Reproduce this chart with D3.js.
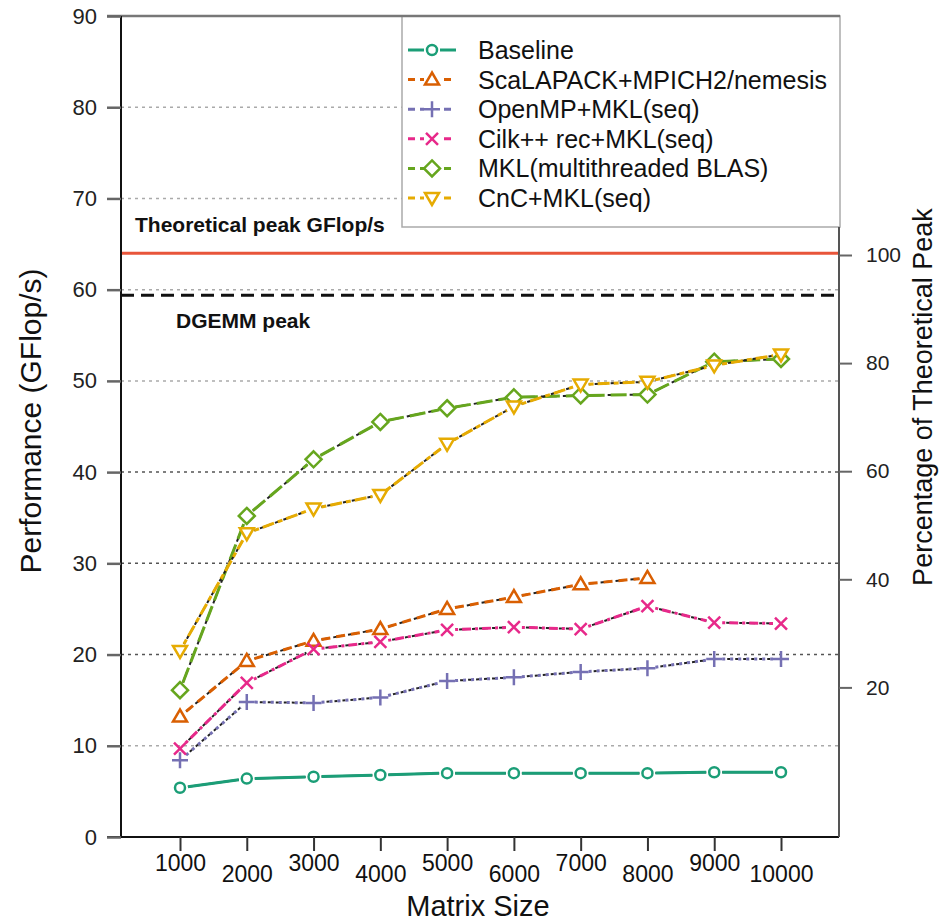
<!DOCTYPE html>
<html>
<head>
<meta charset="utf-8">
<script src="https://cdn.jsdelivr.net/npm/d3@7"></script>
<style>
  body { margin: 0; background: #fff; }
  svg { font-family: "Liberation Sans", Arial, Helvetica, sans-serif; }
</style>
</head>
<body>
<svg id="chart" width="942" height="924"></svg>
<script>
// matrix sizes on the x axis
let sizes = [1000, 2000, 3000, 4000, 5000, 6000, 7000, 8000, 9000, 10000];

// GFlop/s per implementation
let baseline  = [5.4, 6.4, 6.6, 6.8, 7.0, 7.0, 7.0, 7.0, 7.1, 7.1];
let scalapack = [13.2, 19.3, 21.5, 22.8, 25.0, 26.3, 27.7, 28.4];
let openmp    = [8.4, 14.8, 14.7, 15.3, 17.1, 17.5, 18.1, 18.5, 19.5, 19.5];
let cilk      = [9.7, 16.9, 20.6, 21.4, 22.7, 23.0, 22.8, 25.3, 23.5, 23.4];
let mkl       = [16.1, 35.2, 41.4, 45.5, 47.0, 48.2, 48.4, 48.5, 52.1, 52.4];
let cnc       = [20.4, 33.3, 36.0, 37.5, 43.1, 47.2, 49.6, 49.9, 51.7, 52.9];

let names = ["Baseline", "ScaLAPACK+MPICH2/nemesis", "OpenMP+MKL(seq)",
             "Cilk++ rec+MKL(seq)", "MKL(multithreaded BLAS)", "CnC+MKL(seq)"];

let yTicks = [0, 10, 20, 30, 40, 50, 60, 70, 80, 90];
let pctTicks = [20, 40, 60, 80, 100];
let theoreticalPeak = 64;
let dgemmPeak = 59.4;

let series = [baseline, scalapack, openmp, cilk, mkl, cnc];
let color = d3.scaleOrdinal().domain(names).range(d3.schemeDark2);
let shapes = ["circle", "triangle", "plus", "cross", "diamond", "tridown"];
let dashes = ["none", "9,6", "3,5", "3,4,9,4", "16,6", "5,4,12,4"];

const svg = d3.select("#chart");
const plotLeft = 121, plotRight = 839, plotTop = 16, plotBottom = 837;

let x = d3.scaleLinear().domain([1000, 10000]).range([180, 781]);
let y = d3.scaleLinear().domain([0, 90]).range([plotBottom, plotTop]);
// right axis: percentage of theoretical peak (as printed in the figure)
let yPct = d3.scaleLinear().domain([20, 100]).range([y(16.4), y(63.8)]);

// grid lines
svg.append("g")
    .selectAll("line")
    .data(yTicks.filter(d => d > 0 && d < 90))
    .enter()
    .append("line")
    .attr("x1", plotLeft).attr("x2", plotRight)
    .attr("y1", d => y(d)).attr("y2", d => y(d))
    .attr("stroke", d => (d >= 20 && d <= 40) ? "#555" : "#aaa")
    .attr("stroke-width", 1.5)
    .attr("stroke-dasharray", "3,4");

// peak lines
svg.append("line")
    .attr("x1", plotLeft).attr("x2", plotRight)
    .attr("y1", y(theoreticalPeak)).attr("y2", y(theoreticalPeak))
    .attr("stroke", "#e8553a").attr("stroke-width", 3);
svg.append("line")
    .attr("x1", plotLeft).attr("x2", plotRight)
    .attr("y1", y(dgemmPeak)).attr("y2", y(dgemmPeak))
    .attr("stroke", "#111").attr("stroke-width", 3)
    .attr("stroke-dasharray", "13,7");

svg.append("text")
    .attr("x", 135).attr("y", y(theoreticalPeak) - 21)
    .attr("font-size", 21).attr("font-weight", "bold").attr("fill", "#111")
    .text("Theoretical peak GFlop/s");
svg.append("text")
    .attr("x", 176).attr("y", y(dgemmPeak) + 33)
    .attr("font-size", 21).attr("font-weight", "bold").attr("fill", "#111")
    .text("DGEMM peak");

// symbol helper
function drawSymbol(g, shape, cx, cy, col) {
    let s = 6;
    if (shape == "circle") {
        g.append("circle").attr("cx", cx).attr("cy", cy).attr("r", 5)
            .attr("fill", "#fff").attr("stroke", col).attr("stroke-width", 2.5);
    } else if (shape == "triangle" || shape == "tridown") {
        let k = shape == "triangle" ? 1 : -1;
        let pts = [[cx, cy - 7 * k], [cx - 7, cy + 5 * k], [cx + 7, cy + 5 * k]];
        g.append("polygon").attr("points", pts.map(p => p.join(",")).join(" "))
            .attr("fill", "#fff").attr("stroke", col).attr("stroke-width", 2.5)
            .attr("stroke-linejoin", "miter");
    } else if (shape == "diamond") {
        let pts = [[cx, cy - 8], [cx + 8, cy], [cx, cy + 8], [cx - 8, cy]];
        g.append("polygon").attr("points", pts.map(p => p.join(",")).join(" "))
            .attr("fill", "#fff").attr("stroke", col).attr("stroke-width", 2.5);
    } else if (shape == "plus") {
        g.append("path")
            .attr("d", `M${cx - 8},${cy}H${cx + 8}M${cx},${cy - 8}V${cy + 8}`)
            .attr("stroke", col).attr("stroke-width", 2.5);
    } else if (shape == "cross") {
        g.append("path")
            .attr("d", `M${cx - s},${cy - s}L${cx + s},${cy + s}M${cx - s},${cy + s}L${cx + s},${cy - s}`)
            .attr("stroke", col).attr("stroke-width", 2.5);
    }
}

// series: segments with a gap around each point (R type "b")
const gap = 8;
series.forEach((vals, i) => {
    let g = svg.append("g");
    let col = color(names[i]);
    let pts = vals.map((v, j) => [x(sizes[j]), y(v)]);
    for (let j = 0; j < pts.length - 1; j++) {
        let [x0, y0] = pts[j], [x1, y1] = pts[j + 1];
        let len = Math.hypot(x1 - x0, y1 - y0);
        let ux = (x1 - x0) / len, uy = (y1 - y0) / len;
        let seg = [x0 + ux * gap, y0 + uy * gap, x1 - ux * gap, y1 - uy * gap];
        // faint dark shadow of the dashes, as in the original print
        g.append("line")
            .attr("x1", seg[0]).attr("y1", seg[1]).attr("x2", seg[2]).attr("y2", seg[3])
            .attr("stroke", "#222").attr("stroke-width", 2)
            .attr("stroke-dasharray", dashes[i])
            .attr("stroke-dashoffset", dashes[i] == "none" ? 0 : 3);
        g.append("line")
            .attr("x1", seg[0]).attr("y1", seg[1]).attr("x2", seg[2]).attr("y2", seg[3])
            .attr("stroke", col).attr("stroke-width", 3)
            .attr("stroke-dasharray", dashes[i]);
    }
    pts.forEach(p => drawSymbol(g, shapes[i], p[0], p[1], col));
});

// legend
let legend = svg.append("g");
legend.append("rect")
    .attr("x", 402).attr("y", plotTop).attr("width", plotRight - 402 + 1).attr("height", 211)
    .attr("fill", "#fff").attr("stroke", "#aaa").attr("stroke-width", 1.5);
names.forEach((n, i) => {
    let ly = 50 + i * 29.6;
    let col = color(n);
    legend.append("line")
        .attr("x1", 408).attr("x2", 456).attr("y1", ly).attr("y2", ly)
        .attr("stroke", col).attr("stroke-width", 3)
        .attr("stroke-dasharray", dashes[i] == "none" ? "none" : "7,5");
    legend.append("rect").attr("x", 424).attr("y", ly - 8).attr("width", 16).attr("height", 16)
        .attr("fill", "#fff");
    drawSymbol(legend, shapes[i], 432, ly, col);
    legend.append("text")
        .attr("x", 478).attr("y", ly).attr("dy", "0.36em")
        .attr("font-size", 25).attr("fill", "#111")
        .text(n);
});

// frame: top line, left axis, bottom axis, right axis
svg.append("line").attr("x1", 107).attr("x2", plotRight + 1).attr("y1", plotTop).attr("y2", plotTop)
    .attr("stroke", "#777").attr("stroke-width", 2.5);
svg.append("line").attr("x1", plotLeft).attr("x2", plotLeft).attr("y1", plotTop).attr("y2", plotBottom)
    .attr("stroke", "#111").attr("stroke-width", 2);
svg.append("line").attr("x1", 107).attr("x2", plotRight).attr("y1", plotBottom).attr("y2", plotBottom)
    .attr("stroke", "#111").attr("stroke-width", 2);
svg.append("line").attr("x1", plotRight).attr("x2", plotRight).attr("y1", 227).attr("y2", plotBottom)
    .attr("stroke", "#555").attr("stroke-width", 2);

// left axis
let yAxis = d3.axisLeft(y).tickValues(yTicks).tickSize(14).tickPadding(10);
let gy = svg.append("g").attr("transform", `translate(${plotLeft},0)`).call(yAxis);
gy.select(".domain").remove();
gy.selectAll(".tick line").attr("stroke", "#666").attr("stroke-width", 2.5);
gy.selectAll(".tick text").attr("font-size", 22).attr("fill", "#222")
    .attr("font-family", "Liberation Sans, Arial, sans-serif");

// right axis
let rAxis = d3.axisRight(yPct).tickValues(pctTicks).tickSize(13).tickPadding(14);
let gr = svg.append("g").attr("transform", `translate(${plotRight},0)`).call(rAxis);
gr.select(".domain").remove();
gr.selectAll(".tick line").attr("stroke", "#666").attr("stroke-width", 2);
gr.selectAll(".tick text").attr("font-size", 21).attr("fill", "#222")
    .attr("font-family", "Liberation Sans, Arial, sans-serif");

// bottom axis, staggered labels
let xAxis = d3.axisBottom(x).tickValues(sizes).tickSize(14).tickFormat(d3.format("d"));
let gx = svg.append("g").attr("transform", `translate(0,${plotBottom})`).call(xAxis);
gx.select(".domain").remove();
gx.selectAll(".tick line").attr("stroke", "#333").attr("stroke-width", 2);
gx.selectAll(".tick text")
    .attr("font-size", 23).attr("fill", "#111")
    .attr("font-family", "Liberation Sans, Arial, sans-serif")
    .attr("dy", null)
    .attr("y", (d, i) => i % 2 == 0 ? 34 : 45);

// axis titles
svg.append("text")
    .attr("transform", "translate(41,421) rotate(-90)")
    .attr("text-anchor", "middle").attr("font-size", 30).attr("fill", "#111")
    .text("Performance (GFlop/s)");
svg.append("text")
    .attr("transform", "translate(932,397) rotate(-90)")
    .attr("text-anchor", "middle").attr("font-size", 27).attr("fill", "#111")
    .text("Percentage of Theoretical Peak");
svg.append("text")
    .attr("x", 478).attr("y", 916)
    .attr("text-anchor", "middle").attr("font-size", 29).attr("fill", "#111")
    .text("Matrix Size");
</script>
</body>
</html>
